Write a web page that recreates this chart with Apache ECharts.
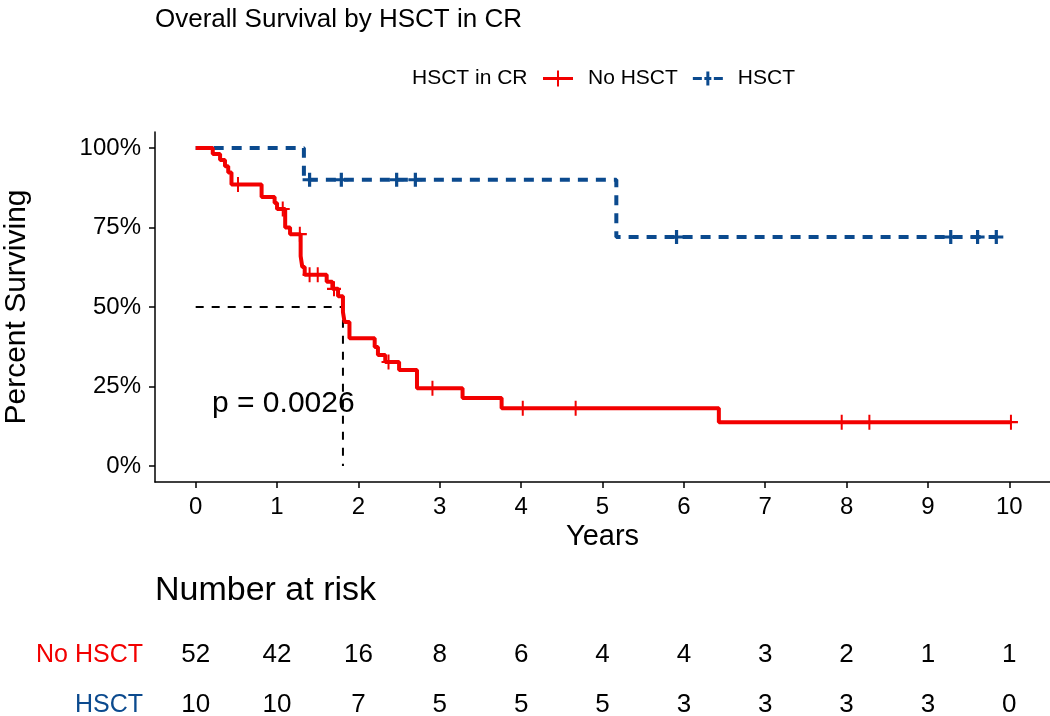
<!DOCTYPE html>
<html><head><meta charset="utf-8">
<script src="https://cdn.jsdelivr.net/npm/echarts@6/dist/echarts.min.js"></script>
<style>html,body{margin:0;padding:0;background:#fff}#c{width:1050px;height:716px}</style>
</head><body><div id="c"></div>
<script>
// ---- data ----
const redTimes = [0, 0.21, 0.30, 0.36, 0.40, 0.44, 0.81, 0.97, 1.00, 1.10, 1.16, 1.29, 1.31, 1.34, 1.61, 1.68, 1.75, 1.81, 1.83, 1.89, 2.20, 2.24, 2.33, 2.50, 2.72, 3.28, 3.76, 6.43, 10.02];
const redSurv  = [100, 98.1, 96.2, 94.2, 92.3, 88.5, 84.6, 82.7, 80.8, 75.0, 72.9, 66.0, 62.6, 60.1, 57.9, 55.7, 53.4, 48.4, 45.3, 40.2, 37.4, 34.9, 32.7, 30.2, 24.5, 21.4, 18.2, 13.8, 13.8];
const redCensorTimes = [0.52, 1.07, 1.28, 1.40, 1.50, 1.70, 2.37, 2.91, 4.02, 4.67, 7.94, 8.28, 10.02];
const redCensorSurv  = [88.5, 80.8, 72.9, 60.1, 60.1, 55.7, 32.7, 24.5, 18.2, 18.2, 13.8, 13.8, 13.8];
const blueTimes = [0, 1.33, 5.17, 9.84];
const blueSurv  = [100, 90, 72, 72];
const blueCensorTimes = [1.40, 1.79, 2.47, 2.70, 5.91, 9.28, 9.61, 9.84];
const blueCensorSurv  = [90, 90, 90, 90, 72, 72, 72, 72];
const medianTime = 1.81;
const xTicks = [0,1,2,3,4,5,6,7,8,9,10];
const yTicks = [0,25,50,75,100];
const riskGroups = ['No HSCT','HSCT'];
const riskNoHSCT = [52,42,16,8,6,4,4,3,2,1,1];
const riskHSCT   = [10,10,7,5,5,5,3,3,3,3,0];
const pText = 'p = 0.0026';

const RED = '#F20000', BLUE = '#0B4A8E';
const FONT = 'Liberation Sans, Arial, Helvetica, sans-serif';
const zip = (a,b) => a.map((v,i)=>[v,b[i]]);
const crossRed = 'path://M-1,-7 h2 v14 h-2 z M-7,-1 h14 v2 h-14 z';
const crossBlue = 'path://M-1.6,-7 h3.2 v14 h-3.2 z M-7,-1.6 h14 v3.2 h-14 z';

const chart = echarts.init(document.getElementById('c'), null, {renderer:'canvas'});
const riskData = [];
riskNoHSCT.forEach((v,i)=>riskData.push([xTicks[i],'No HSCT',v]));
riskHSCT.forEach((v,i)=>riskData.push([xTicks[i],'HSCT',v]));

chart.setOption({
  animation:false,
  textStyle:{fontFamily:FONT},
  title:[
    {text:'Overall Survival by HSCT in CR', left:150, top:2, textStyle:{fontSize:26, fontWeight:'normal', color:'#000', fontFamily:FONT}},
    {text:'Number at risk', left:150, top:569, textStyle:{fontSize:34, fontWeight:'normal', color:'#000', fontFamily:FONT}}
  ],
  legend:{
    left:538, top:63, itemWidth:30, itemHeight:16, itemGap:15,
    textStyle:{fontSize:21, color:'#000', fontFamily:FONT, padding:[0,0,0,10]},
    data:[
      {name:'No HSCT', icon:'path://M0,6.5 h30 v3 h-30 z M14,0 h2 v16 h-2 z'},
      {name:'HSCT', icon:'path://M0,6.5 h9 v3 h-9 z M11.5,6.5 h7 v3 h-7 z M21,6.5 h9 v3 h-9 z M13.5,1 h3 v14 h-3 z'}
    ]
  },
  graphic:[
    {type:'text', left:412, top:68, style:{text:'HSCT in CR', font:'21px '+FONT, fill:'#000'}},
    {type:'text', left:212, top:389, style:{text:pText, font:'30px '+FONT, fill:'#000'}}
  ],
  grid:[
    {left:155, right:0, top:132, height:350, outerBoundsMode:'none', containLabel:false},
    {left:155, right:0, top:630, height:100, outerBoundsMode:'none', containLabel:false}
  ],
  xAxis:[
    {type:'value', gridIndex:0, min:-0.5, max:10.5,
     name:'Years', nameLocation:'middle', nameGap:40, nameTextStyle:{fontSize:29, color:'#000', fontFamily:FONT},
     axisLine:{show:true, onZero:false, lineStyle:{color:'#000', width:1.5}},
     axisTick:{show:true, length:6, lineStyle:{color:'#000', width:1.5}, customValues:xTicks},
     axisLabel:{fontSize:24, color:'#000', margin:13, customValues:xTicks, fontFamily:FONT},
     splitLine:{show:false}},
    {type:'value', gridIndex:1, min:-0.5, max:10.5, show:false}
  ],
  yAxis:[
    {type:'value', gridIndex:0, min:-5, max:105,
     name:'Percent Surviving', nameLocation:'middle', nameGap:123, nameTextStyle:{fontSize:30, color:'#000', fontFamily:FONT},
     axisLine:{show:true, onZero:false, lineStyle:{color:'#000', width:1.5}},
     axisTick:{show:true, length:6, lineStyle:{color:'#000', width:1.5}, customValues:yTicks},
     axisLabel:{fontSize:24, color:'#000', margin:14, customValues:yTicks, formatter:v=>v+'%', fontFamily:FONT},
     splitLine:{show:false}},
    {type:'category', gridIndex:1, inverse:true, data:riskGroups,
     axisLine:{show:false}, axisTick:{show:false},
     axisLabel:{fontSize:25, margin:12, fontFamily:FONT, color:(v)=> v==='HSCT'?BLUE:RED}}
  ],
  series:[
    {name:'No HSCT', type:'line', step:'end', data:zip(redTimes, redSurv), showSymbol:false, symbol:'none',
     lineStyle:{color:RED, width:4}, itemStyle:{color:RED}, z:3},
    {name:'HSCT', type:'line', step:'end', data:zip(blueTimes, blueSurv), showSymbol:false, symbol:'none',
     lineStyle:{color:BLUE, width:4, type:[10,8], cap:'butt'}, itemStyle:{color:BLUE}, z:2},
    {type:'scatter', data:zip(redCensorTimes, redCensorSurv), symbol:crossRed, symbolSize:[14,15],
     itemStyle:{color:RED, opacity:1}, z:4, silent:true},
    {type:'scatter', data:zip(blueCensorTimes, blueCensorSurv), symbol:crossBlue, symbolSize:[14,14],
     itemStyle:{color:BLUE, opacity:1}, z:4, silent:true},
    {type:'line', data:[[0,50],[medianTime,50],[medianTime,0]], symbol:'none',
     lineStyle:{color:'#000', width:2, type:[8,8]}, z:1, silent:true},
    {type:'scatter', xAxisIndex:1, yAxisIndex:1, data:riskData, symbolSize:0, itemStyle:{opacity:1},
     label:{show:true, position:'inside', formatter:p=>String(p.value[2]), fontSize:26, color:'#000', fontFamily:FONT}}
  ]
});
</script></body></html>
